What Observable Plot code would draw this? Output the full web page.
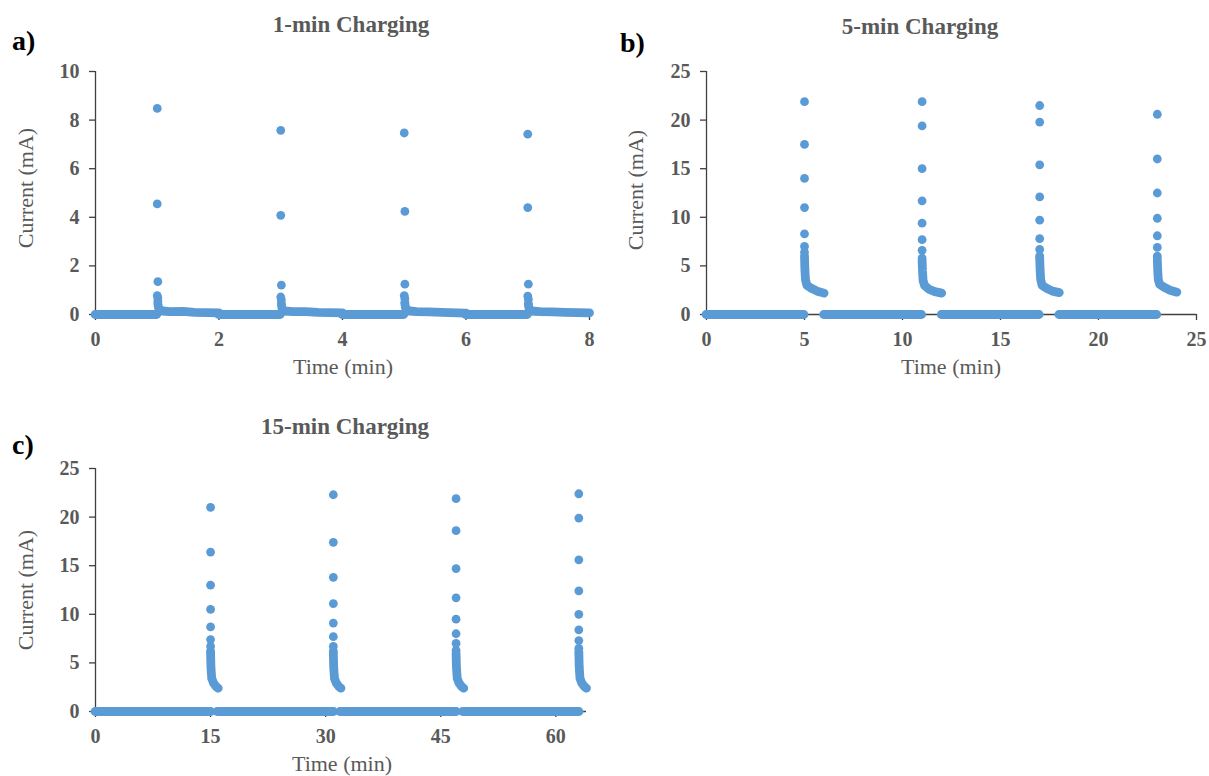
<!DOCTYPE html>
<html><head><meta charset="utf-8">
<script src="https://cdn.jsdelivr.net/npm/d3@7"></script>
<script src="https://cdn.jsdelivr.net/npm/@observablehq/plot@0.6"></script>
<style>
body{margin:0;background:#fff;}
#chart{position:relative;width:1209px;height:776px;overflow:hidden;background:#fff;font-family:"Liberation Serif","Times New Roman",serif;}
.t{position:absolute;white-space:nowrap;line-height:1;}
.title{font-size:23px;font-weight:bold;color:#595959;transform:translateX(-50%);}
.tag{font-size:28px;font-weight:bold;color:#000;}
.xl{font-size:22px;color:#595959;transform:translateX(-50%);}
.yl{font-size:22px;color:#595959;transform:translate(-50%,-50%) rotate(-90deg);}
#chart svg{position:absolute;overflow:visible;}
</style></head><body><div id="chart"></div><script>
// ---------- data ----------
// Panel a: 1-min charging
const aXTicks = [0, 2, 4, 6, 8];
const aYTicks = [0, 2, 4, 6, 8, 10];
const aZeroRuns = [[0, 1], [2, 3], [4, 5], [6, 7]];
const aDots = [
  [1.00, 8.48], [1.00, 4.55], [1.01, 1.35], [1.00, 0.78], [1.01, 0.68], [1.01, 0.55],
  [3.00, 7.58], [3.00, 4.08], [3.01, 1.21], [3.00, 0.72], [3.01, 0.60], [3.01, 0.45],
  [5.00, 7.47], [5.01, 4.24], [5.01, 1.25], [5.00, 0.78], [5.01, 0.65], [5.01, 0.50],
  [7.00, 7.42], [7.00, 4.40], [7.01, 1.25], [7.00, 0.76], [7.01, 0.62], [7.01, 0.45]
];
const aTails = [
  [[1.01, 0.45], [1.02, 0.28], [1.06, 0.16], [1.20, 0.12], [1.42, 0.13], [1.60, 0.09], [2.00, 0.07]],
  [[3.01, 0.40], [3.02, 0.26], [3.06, 0.15], [3.20, 0.12], [3.40, 0.12], [3.60, 0.09], [4.00, 0.07]],
  [[5.01, 0.45], [5.02, 0.28], [5.06, 0.16], [5.20, 0.12], [5.40, 0.11], [5.60, 0.09], [6.00, 0.06]],
  [[7.01, 0.40], [7.02, 0.26], [7.06, 0.15], [7.20, 0.12], [7.40, 0.11], [7.60, 0.09], [8.00, 0.07]]
];

// Panel b: 5-min charging
const bXTicks = [0, 5, 10, 15, 20, 25];
const bYTicks = [0, 5, 10, 15, 20, 25];
const bZeroRuns = [[0, 5], [6, 11], [12, 17], [18, 23]];
const bDots = [
  [5, 21.9], [5, 17.5], [5, 14.0], [5, 11.0], [5, 8.3], [5, 7.0], [5, 6.4],
  [11, 21.9], [11, 19.4], [11, 15.0], [11, 11.7], [11, 9.4], [11, 7.7], [11, 6.6], [11, 5.8],
  [17, 21.5], [17, 19.8], [17, 15.4], [17, 12.1], [17, 9.7], [17, 7.8], [17, 6.7], [17, 6.0],
  [23, 20.6], [23, 16.0], [23, 12.5], [23, 9.9], [23, 8.1], [23, 6.9], [23, 6.0]
];
const bTails = [
  [[5.00, 6.0], [5.02, 4.6], [5.05, 3.6], [5.12, 3.0], [5.35, 2.7], [5.65, 2.4], [6.00, 2.2]],
  [[11.00, 5.6], [11.02, 4.5], [11.05, 3.5], [11.12, 3.0], [11.35, 2.6], [11.65, 2.35], [12.00, 2.2]],
  [[17.00, 5.8], [17.02, 4.6], [17.05, 3.6], [17.12, 3.0], [17.35, 2.7], [17.65, 2.4], [18.00, 2.25]],
  [[23.00, 5.7], [23.02, 4.6], [23.05, 3.6], [23.12, 3.1], [23.35, 2.8], [23.65, 2.5], [24.00, 2.3]]
];

// Panel c: 15-min charging
const cXTicks = [0, 15, 30, 45, 60];
const cYTicks = [0, 5, 10, 15, 20, 25];
const cZeroRuns = [[0, 15.1], [15.9, 31.1], [31.9, 47.1], [47.9, 63.1]];
const cDots = [
  [15, 21.0], [15, 16.4], [15, 13.0], [15, 10.5], [15, 8.7], [15, 7.4], [15, 6.7], [15, 6.2],
  [31, 22.3], [31, 17.4], [31, 13.8], [31, 11.1], [31, 9.1], [31, 7.7], [31, 6.7], [31, 6.2],
  [47, 21.9], [47, 18.6], [47, 14.7], [47, 11.7], [47, 9.5], [47, 8.0], [47, 7.0], [47, 6.3],
  [63, 22.4], [63, 19.9], [63, 15.6], [63, 12.4], [63, 10.0], [63, 8.4], [63, 7.3], [63, 6.5]
];
const cTails = [
  [[15.00, 6.0], [15.05, 4.5], [15.15, 3.4], [15.40, 2.9], [15.75, 2.55], [16.00, 2.4]],
  [[31.00, 6.0], [31.05, 4.5], [31.15, 3.4], [31.40, 2.9], [31.75, 2.55], [32.00, 2.4]],
  [[47.00, 6.0], [47.05, 4.5], [47.15, 3.4], [47.40, 2.9], [47.75, 2.55], [48.00, 2.4]],
  [[63.00, 6.2], [63.05, 4.6], [63.15, 3.4], [63.40, 2.9], [63.75, 2.55], [64.00, 2.4]]
];

// ---------- drawing ----------
const BLUE = "#5B9BD5";
const AXIS = "#404040";
const TXT = "#595959";
const R = 4.4;
const chart = document.getElementById("chart");

function panel(o) {
  const runs = o.zero.map(([x1, x2]) => ({x1, x2}));
  const pts = o.dots.map(([x, y]) => ({x, y}));
  const tl = o.tails.flatMap((t, i) => t.map(([x, y]) => ({x, y, k: i})));
  const svg = Plot.plot({
    width: o.width, height: o.height,
    marginLeft: o.mL, marginRight: o.mR, marginTop: o.mT, marginBottom: o.mB,
    style: {fontFamily: "'Liberation Serif', 'Times New Roman', serif", fontSize: "20px", fontWeight: "bold", color: TXT, background: "transparent", overflow: "visible"},
    x: {domain: o.xDomain},
    y: {domain: o.yDomain},
    marks: [
      Plot.ruleX([o.xDomain[0]], {y1: o.yDomain[0], y2: o.yDomain[1], stroke: AXIS, strokeWidth: 1.3}),
      Plot.ruleY([o.yDomain[0]], {x1: o.xDomain[0], x2: o.xDomain[1], stroke: AXIS, strokeWidth: 1.3}),
      Plot.axisX({ticks: o.xTicks, tickSize: 6, tickPadding: 11, stroke: AXIS, strokeWidth: 1.3, fill: TXT, label: null, tickFormat: d => String(d)}),
      Plot.axisY({ticks: o.yTicks, tickSize: 6, tickPadding: 10, stroke: AXIS, strokeWidth: 1.3, fill: TXT, label: null, tickFormat: d => String(d)}),
      Plot.ruleY(runs, {x1: "x1", x2: "x2", y: () => 0, stroke: BLUE, strokeWidth: 2 * R, strokeLinecap: "round"}),
      Plot.line(tl, {x: "x", y: "y", z: "k", stroke: BLUE, strokeWidth: 2 * R, strokeLinecap: "round", strokeLinejoin: "round"}),
      Plot.dot(pts, {x: "x", y: "y", r: R, fill: BLUE, stroke: "none"})
    ]
  });
  svg.style.left = o.left + "px";
  svg.style.top = o.top + "px";
  chart.appendChild(svg);
}

function text(cls, str, left, top) {
  const d = document.createElement("div");
  d.className = "t " + cls;
  d.textContent = str;
  d.style.left = left + "px";
  d.style.top = top + "px";
  chart.appendChild(d);
}

panel({left: 0, top: 0, width: 604, height: 390, mL: 95, mR: 15, mT: 71, mB: 76,
  xDomain: [0, 8], yDomain: [0, 10], xTicks: aXTicks, yTicks: aYTicks,
  zero: aZeroRuns, dots: aDots, tails: aTails});
panel({left: 604, top: 0, width: 605, height: 390, mL: 102, mR: 13, mT: 71, mB: 76,
  xDomain: [0, 25], yDomain: [0, 25], xTicks: bXTicks, yTicks: bYTicks,
  zero: bZeroRuns, dots: bDots, tails: bTails});
panel({left: 0, top: 390, width: 604, height: 386, mL: 95, mR: 18, mT: 78, mB: 65,
  xDomain: [0, 64], yDomain: [0, 25], xTicks: cXTicks, yTicks: cYTicks,
  zero: cZeroRuns, dots: cDots, tails: cTails});

// texts
text("tag", "a)", 12, 27);
text("title", "1-min Charging", 351, 13);
text("yl", "Current (mA)", 26, 188);
text("xl", "Time (min)", 343, 356);

text("tag", "b)", 620, 29);
text("title", "5-min Charging", 920, 15);
text("yl", "Current (mA)", 636, 190);
text("xl", "Time (min)", 951, 356);

text("tag", "c)", 12, 431);
text("title", "15-min Charging", 345, 415);
text("yl", "Current (mA)", 26, 590);
text("xl", "Time (min)", 342, 753);
</script></body></html>
